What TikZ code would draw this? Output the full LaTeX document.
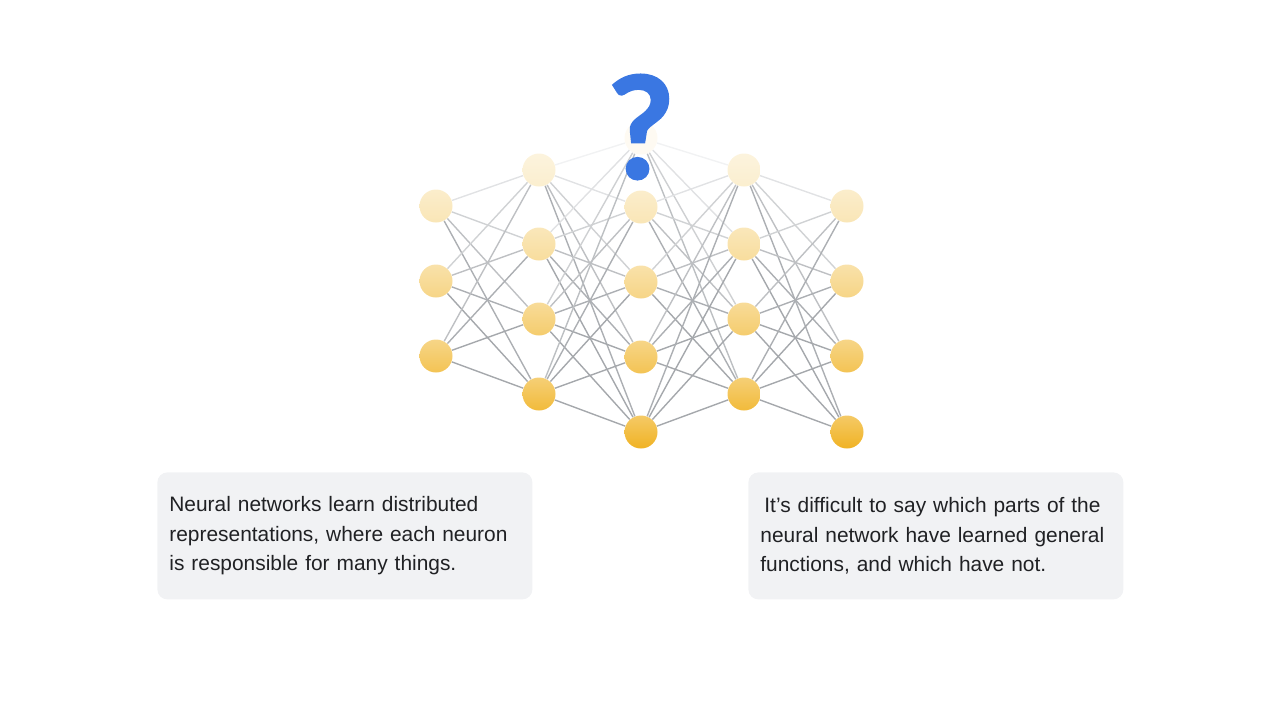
\documentclass[tikz,border=0pt]{standalone}
\usepackage{fontspec}
\setmainfont{Liberation Sans}
\newfontfamily\qfont{Lato}[BoldFeatures={FakeBold=1.6}]
\usetikzlibrary{backgrounds}

\definecolor{nodePale}{HTML}{FCF5E2}
\definecolor{nodeDark}{HTML}{F0B222}
\definecolor{edgeGray}{HTML}{A5A8AC}
\definecolor{qBlue}{HTML}{3A77E2}
\definecolor{boxGray}{HTML}{F1F2F4}
\definecolor{inkGray}{HTML}{202124}

\begin{document}
\begin{tikzpicture}[x=0.5pt,y=-0.5pt,
  neuron/.style={circle,minimum size=16.5pt,inner sep=0pt},
  synapse/.style={line width=0.7pt},
  infobox/.style={rounded corners=5pt,fill=boxGray,text=inkGray,anchor=north west,
    minimum width=187.5pt,minimum height=63.5pt,text width=175.5pt,inner xsep=6pt,
    align=left,font=\fontsize{10.45}{14.75}\selectfont},
  qmark/.style={text=qBlue,inner sep=0pt,font=\qfont\bfseries\fontsize{71}{71}\selectfont}]
\useasboundingbox (0,0) rectangle (1280,720);

% neurons, paler towards the top
\foreach \n/\x/\y in {a1/436/206,a2/436/281,a3/436/356,
    b1/539/170,b2/539/244,b3/539/319,b4/539/394,
    c1/641/207,c2/641/282,c3/641/357,c4/641/432,
    d1/744/170,d2/744/244,d3/744/319,d4/744/394,
    e1/847/206,e2/847/281,e3/847/356,e4/847/432}{
  \pgfmathtruncatemacro\p{(\y-138)/2.94}
  \colorlet{nc}{nodeDark!\p!nodePale}
  \node[neuron,top color=nc!70!white,bottom color=nc] (\n) at (\x,\y) {};
}
\node[neuron,fill=nodePale!45!white] (c0) at (641,138) {};

% connections
\begin{pgfonlayer}{background}
\foreach \u/\yu in {a1/206,a2/281,a3/356}
  \foreach \v/\yv in {b1/170,b2/244,b3/319,b4/394}{
    \pgfmathtruncatemacro\q{min(100,max(12,((\yu+\yv)/2-125)/1.9))}
    \draw[synapse,edgeGray!\q!white] (\u) -- (\v);
  }
\foreach \u/\yu in {b1/170,b2/244,b3/319,b4/394}
  \foreach \v/\yv in {c0/138,c1/207,c2/282,c3/357,c4/432}{
    \pgfmathtruncatemacro\q{min(100,max(12,((\yu+\yv)/2-125)/1.9))}
    \draw[synapse,edgeGray!\q!white] (\u) -- (\v);
  }
\foreach \u/\yu in {c0/138,c1/207,c2/282,c3/357,c4/432}
  \foreach \v/\yv in {d1/170,d2/244,d3/319,d4/394}{
    \pgfmathtruncatemacro\q{min(100,max(12,((\yu+\yv)/2-125)/1.9))}
    \draw[synapse,edgeGray!\q!white] (\u) -- (\v);
  }
\foreach \u/\yu in {d1/170,d2/244,d3/319,d4/394}
  \foreach \v/\yv in {e1/206,e2/281,e3/356,e4/432}{
    \pgfmathtruncatemacro\q{min(100,max(12,((\yu+\yv)/2-125)/1.9))}
    \draw[synapse,edgeGray!\q!white] (\u) -- (\v);
  }
\end{pgfonlayer}

\node[qmark] (q) at (641,127) {?};

\node[infobox] (left) at (157,472) {Neural networks learn distributed\\
  representations, where each neuron\\ is responsible for many things.};
\node[infobox] (right) at (748,472) {\hspace*{2pt}It’s difficult to say which parts of the\\
  neural network have learned general\\ functions, and which have not.};
\end{tikzpicture}
\end{document}
